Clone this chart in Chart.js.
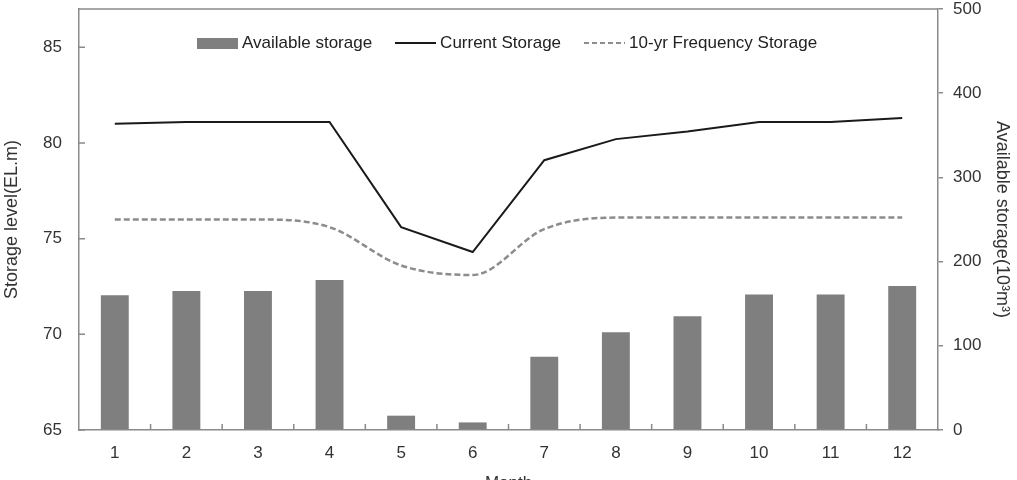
<!DOCTYPE html>
<html>
<head>
<meta charset="utf-8">
<title>Storage level</title>
<script src="https://cdn.jsdelivr.net/npm/chart.js@4/dist/chart.umd.min.js"></script>
<style>
  html, body { margin: 0; padding: 0; background: #fff; overflow: hidden; }
  #wrap { position: relative; width: 1017px; height: 496px; }
  #legend {
    position: absolute; top: 33px; left: 197px;
    display: flex; align-items: center;
    font: 17px "Liberation Sans", Arial, sans-serif; color: #222;
    line-height: 20px; white-space: nowrap;
  }
  #legend .item { display: flex; align-items: center; margin-right: 23px; }
  #legend .sym { width: 41px; margin-right: 4px; }
  #legend .box { height: 11px; background: #7f7f7f; }
  #legend .solid { height: 2px; background: #1a1a1a; }
  #legend .dash { height: 2px; background: repeating-linear-gradient(90deg, #8c8c8c 0 5px, transparent 5px 8px); }
</style>
</head>
<body>
<div id="wrap">
  <canvas id="chart"></canvas>
  <div id="legend"></div>
</div>
<script>
// data
const months = ["1", "2", "3", "4", "5", "6", "7", "8", "9", "10", "11", "12"];
const availableStorage = [160, 165, 165, 178, 17, 9, 87, 116, 135, 161, 161, 171];   // 10^3 m^3, right axis
const currentStorage = [81.0, 81.1, 81.1, 81.1, 75.6, 74.3, 79.1, 80.2, 80.6, 81.1, 81.1, 81.3];  // EL.m
const freqStorage = [76.0, 76.0, 76.0, 75.6, 73.6, 73.1, 75.5, 76.1, 76.1, 76.1, 76.1, 76.1];     // EL.m
const levelTicks = [65, 70, 75, 80, 85];

const axisColor = "#8a8a8a";
Chart.defaults.font.family = '"Liberation Sans", Arial, sans-serif';
Chart.defaults.font.size = 17;
Chart.defaults.color = "#333";

// top frame line + inward tick marks on the left and bottom axes
const framePlugin = {
  id: "frame",
  afterDraw(chart) {
    const { ctx, chartArea: { left, right, top, bottom }, scales: { x, y } } = chart;
    ctx.save();
    ctx.strokeStyle = axisColor;
    ctx.lineWidth = 1.5;
    ctx.beginPath();
    ctx.moveTo(left, top);
    ctx.lineTo(right, top);
    y.ticks.forEach(t => {
      const py = y.getPixelForValue(t.value);
      ctx.moveTo(left, py);
      ctx.lineTo(left + 6, py);
    });
    for (let i = 1; i < months.length; i++) {
      const px = x.getPixelForValue(i - 0.5);
      ctx.moveTo(px, bottom);
      ctx.lineTo(px, bottom - 6);
    }
    ctx.stroke();
    ctx.restore();
  }
};

// fixed axis sizes so the plot area sits where it does in the original
function fixWidth(w) {
  return function (scale) {
    scale.width = w;
    scale.paddingTop = 0;
    scale.paddingBottom = 0;
  };
}

const chart = new Chart(document.getElementById("chart").getContext("2d"), {
  type: "bar",
  data: {
    labels: months,
    datasets: [
      {
        type: "line",
        label: "Current Storage",
        data: currentStorage,
        yAxisID: "y",
        borderColor: "#1a1a1a",
        borderWidth: 2,
        tension: 0,
        pointRadius: 0,
        fill: false,
        order: 1
      },
      {
        type: "line",
        label: "10-yr Frequency Storage",
        data: freqStorage,
        yAxisID: "y",
        borderColor: "#8c8c8c",
        borderWidth: 2.5,
        borderDash: [6, 3],
        cubicInterpolationMode: "monotone",
        pointRadius: 0,
        fill: false,
        order: 2
      },
      {
        type: "bar",
        label: "Available storage",
        data: availableStorage,
        yAxisID: "y1",
        backgroundColor: "#7f7f7f",
        barPercentage: 0.39,
        categoryPercentage: 1,
        order: 3
      }
    ]
  },
  options: {
    responsive: true,
    maintainAspectRatio: false,
    animation: false,
    layout: { padding: { top: 9, left: 0, right: 0, bottom: 0 } },
    plugins: {
      legend: { display: false },
      tooltip: { enabled: false }
    },
    scales: {
      x: {
        offset: true,
        grid: { drawOnChartArea: false, drawTicks: false },
        border: { color: axisColor, width: 1.5 },
        ticks: { padding: 13, color: "#333" },
        title: { display: true, text: "Month", font: { size: 17 }, padding: { top: 0, bottom: 2 } },
        afterFit(scale) {
          scale.height = 66;
          scale.paddingLeft = 0;
          scale.paddingRight = 0;
        }
      },
      y: {
        position: "left",
        min: 65,
        max: 87,
        ticks: { stepSize: 5, padding: 17, color: "#333" },
        afterBuildTicks(scale) {
          scale.ticks = levelTicks.map(v => ({ value: v }));
        },
        grid: { drawOnChartArea: false, drawTicks: false },
        border: { color: axisColor, width: 1.5 },
        title: { display: true, text: "Storage level(EL.m)", font: { size: 18 }, color: "#333", padding: { top: 1, bottom: 0 } },
        afterFit: fixWidth(79)
      },
      y1: {
        position: "right",
        min: 0,
        max: 500,
        ticks: { stepSize: 100, padding: 10, color: "#333" },
        grid: { drawOnChartArea: false, drawTicks: true, tickLength: 5, color: axisColor, lineWidth: 1.5 },
        border: { color: axisColor, width: 1.5 },
        title: { display: true, text: "Available storage(10³m³)", font: { size: 18 }, color: "#333", padding: { top: 4, bottom: 0 } },
        afterFit: fixWidth(79)
      }
    }
  },
  plugins: [framePlugin]
});

// legend drawn over the plot area, built from the datasets
const legendEl = document.getElementById("legend");
const legendOrder = [2, 0, 1];
const symClass = ["solid", "dash", "box"];
legendOrder.forEach(i => {
  const ds = chart.data.datasets[i];
  const item = document.createElement("span");
  item.className = "item";
  item.innerHTML = '<span class="sym ' + symClass[i] + '"></span><span>' + ds.label + "</span>";
  legendEl.appendChild(item);
});
</script>
</body>
</html>
